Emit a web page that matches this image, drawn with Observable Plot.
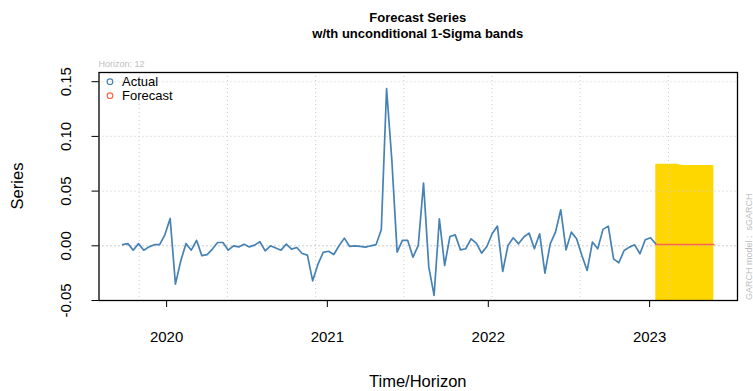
<!DOCTYPE html>
<html><head><meta charset="utf-8">
<script src="https://cdn.jsdelivr.net/npm/d3@7"></script>
<script src="https://cdn.jsdelivr.net/npm/@observablehq/plot@0.6"></script>
<style>body{margin:0;background:#fff} svg{display:block}</style>
</head><body><div id="chart"></div>
<script>
const actual = [
  0.001, 0.002, -0.004, 0.002, -0.004, -0.001, 0.001, 0.001, 0.010, 0.025,
  -0.035, -0.014, 0.002, -0.004, 0.005, -0.009, -0.008, -0.003, 0.003, 0.003,
  -0.004, 0.000, -0.001, 0.0015, -0.001, 0.0006, 0.0037, -0.0046, 0.000, -0.002,
  -0.004, 0.0015, -0.003, -0.0015, -0.007, -0.0085, -0.032, -0.0168, -0.006, -0.005,
  -0.008, 0.000, 0.007, -0.0006, 0.000, -0.0006, -0.0012, 0.000, 0.001, 0.0146,
  0.1436, 0.078, -0.0058, 0.0049, 0.0049, -0.0104, 0.0003, 0.0573, -0.0195, -0.0454,
  0.0247, -0.018, 0.0085, 0.010, -0.0037, -0.0027, 0.0064, 0.0024, -0.0067, -0.0006,
  0.011, 0.018, -0.0235, 0.0003, 0.0073, 0.0018, 0.008, 0.0116, -0.0027, 0.011,
  -0.025, 0.0018, 0.0125, 0.0329, -0.0037, 0.0125, 0.0064, -0.0088, -0.0225, 0.0034,
  -0.0027, 0.015, 0.018, -0.0119, -0.0155, -0.0043, -0.0012, 0.0009, -0.0073, 0.0055,
  0.0073, 0.0018
];
// Forecast (horizon 12) and 1-sigma band
const forecast  = [0.0012,0.0012,0.0012,0.0012,0.0012,0.0012,0.0012,0.0012,0.0012,0.0012,0.0012,0.0012];
const bandUpper = [0.0745,0.0745,0.0745,0.0745,0.0745,0.0735,0.0735,0.0735,0.0735,0.0735,0.0735,0.0735];
const bandLower = [-0.0721,-0.0721,-0.0721,-0.0721,-0.0721,-0.0711,-0.0711,-0.0711,-0.0711,-0.0711,-0.0711,-0.0711];
// Axis ticks (x in observation index units)
const yearLabels = ["2020", "2021", "2022", "2023"];
const yearPos = [8.33, 38.78, 69.27, 99.83];
const gridXPos = [3.14, 19.85, 36.56, 53.27, 69.98, 86.69, 103.40];
const yTicks = [-0.05, 0, 0.05, 0.10, 0.15];

const W = 753, H = 391;
const mL = 98.5, mR = 16, mT = 72, mB = 91;
const fStart = actual.length - 1;
const nAll = fStart + forecast.length - 1;
const ext = 0.04 * nAll;
const actualData = actual.map((v, i) => ({i, v}));
const fData = forecast.map((v, k) => ({i: fStart + k, v, hi: bandUpper[k], lo: bandLower[k]}));
const FONT = "Liberation Sans, Arial, Helvetica, sans-serif";
const grid = {stroke: "#CFCFCF", strokeDasharray: "1,3", strokeOpacity: 1, strokeWidth: 1.1};

const plot = Plot.plot({
  width: W, height: H, marginLeft: mL, marginRight: mR, marginTop: mT, marginBottom: mB,
  style: {fontFamily: FONT, background: "white", overflow: "visible", color: "#000"},
  x: {domain: [-ext, nAll + ext], axis: null},
  y: {domain: [-0.050, 0.1584], axis: null},
  marks: [
    Plot.areaY(fData, {x: "i", y1: "lo", y2: "hi", fill: "#FFD700", clip: true}),
    Plot.ruleY(yTicks, grid),
    Plot.ruleX(gridXPos, grid),
    Plot.ruleY([0], {stroke: "#BEBEBE", strokeDasharray: "1,3", strokeWidth: 1.1}),
    Plot.line(actualData, {x: "i", y: "v", stroke: "#4682B4", strokeWidth: 1.7}),
    Plot.line(fData, {x: "i", y: "v", stroke: "#FF6347", strokeWidth: 1.7}),
    Plot.frame({stroke: "#000", strokeWidth: 1.3}),
    Plot.axisY({ticks: yTicks, tickSize: 7, tickFormat: () => "", label: null}),
    Plot.axisX({ticks: yearPos, tickSize: 7, tickFormat: () => "", label: null}),
    Plot.text(yTicks, {y: d => d, text: d => d.toFixed(2), frameAnchor: "left", dx: -33,
      rotate: -90, fontSize: 15, textAnchor: "middle", lineAnchor: "middle", fill: "#000"}),
    Plot.text(yearLabels, {x: (d, i) => yearPos[i], text: d => d, frameAnchor: "bottom", dy: 37,
      fontSize: 15, lineAnchor: "middle", fill: "#000"})
  ]
});
document.getElementById("chart").appendChild(plot);

const svg = d3.select(plot);
const cx = (mL + W - mR) / 2;
function txt(x, y, s, opts = {}) {
  const t = svg.append("text").attr("x", x).attr("y", y).text(s)
    .attr("font-family", FONT).attr("font-size", opts.size || 12)
    .attr("fill", opts.fill || "#000").attr("text-anchor", opts.anchor || "start");
  if (opts.weight) t.attr("font-weight", opts.weight);
  if (opts.transform) t.attr("transform", opts.transform);
  return t;
}
txt(cx, 21.5, "Forecast Series", {size: 13, weight: "bold", anchor: "middle"});
txt(cx, 38, "w/th unconditional 1-Sigma bands", {size: 13, weight: "bold", anchor: "middle"});
txt(mL, 67, "Horizon: 12", {size: 9, fill: "#BEBEBE"});
txt(0, 0, "GARCH model :  sGARCH", {size: 9, fill: "#BEBEBE", transform: "translate(751.5,300) rotate(-90)"});
txt(cx, 387, "Time/Horizon", {size: 16.5, anchor: "middle"});
txt(0, 0, "Series", {size: 16.5, anchor: "middle", transform: "translate(23," + ((mT + H - mB) / 2) + ") rotate(-90)"});
// legend
const leg = [["Actual", "#4682B4", 81.7], ["Forecast", "#FF6347", 95.7]];
leg.forEach(([lab, col, y]) => {
  svg.append("circle").attr("cx", 110).attr("cy", y).attr("r", 2.8)
    .attr("fill", "none").attr("stroke", col).attr("stroke-width", 1.2);
  txt(122, y + 4.6, lab, {size: 13});
});
</script>
</body></html>
